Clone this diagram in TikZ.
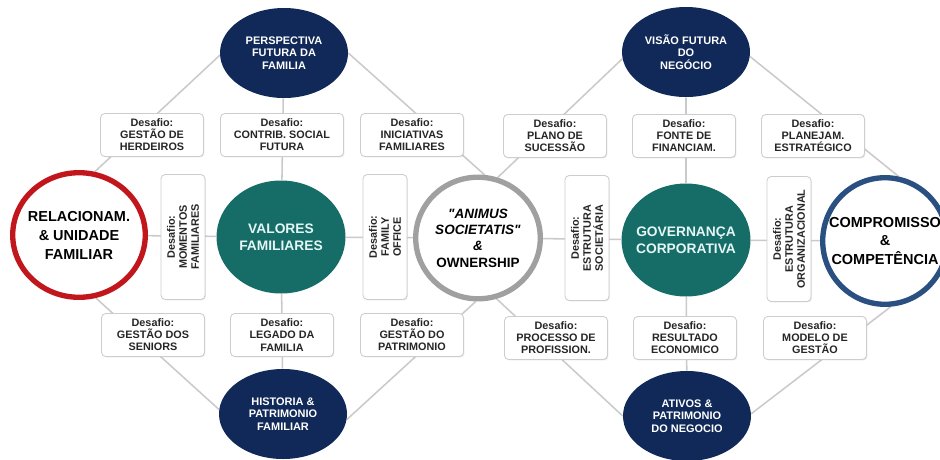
\documentclass[tikz,border=0pt]{standalone}
\usepackage{fontspec}
\setmainfont{Liberation Sans}
\usetikzlibrary{shapes.geometric,shadows,backgrounds}

\definecolor{navyfill}{RGB}{16,41,88}
\definecolor{tealfill}{RGB}{22,108,102}
\definecolor{tealtext}{RGB}{228,246,246}
\definecolor{ringred}{RGB}{192,22,28}
\definecolor{ringgray}{RGB}{160,160,160}
\definecolor{ringblue}{RGB}{42,80,130}
\definecolor{boxline}{RGB}{205,205,205}
\definecolor{linkgray}{RGB}{202,202,202}

\tikzset{
  desafio/.style={draw=boxline, fill=white, line width=0.6pt, rounded corners=3pt,
    align=center, inner sep=1pt, text=black!85,
    font=\bfseries\fontsize{7.7}{8.6}\selectfont,
    drop shadow={shadow xshift=0.7pt, shadow yshift=-0.7pt, opacity=0.18}},
  hdesafio/.style={desafio, minimum width=2.575cm, minimum height=1.075cm},
  vdesafio/.style={desafio, rotate=90, minimum width=3.125cm, minimum height=1.1cm},
  horizonte/.style={ellipse, fill=navyfill, inner sep=0pt, minimum width=3.2cm,
    minimum height=2.25cm, align=center, text=white,
    font=\bfseries\fontsize{7.8}{9}\selectfont},
  valor/.style={ellipse, fill=tealfill, inner sep=0pt, minimum width=3.225cm,
    minimum height=2.825cm},
  valortext/.style={align=center, text=tealtext,
    font=\bfseries\fontsize{9.8}{12.3}\selectfont},
  pilar/.style={ellipse, fill=white, line width=3.8pt, inner sep=0pt},
  pilartext/.style={align=center, text=black,
    font=\bfseries\fontsize{10.3}{13.5}\selectfont},
  link/.style={draw=linkgray, line width=1.1pt}
}

\begin{document}
\begin{tikzpicture}
            \useasboundingbox (0,0) rectangle (23.5,11.475);

            \node[horizonte] (persp) at (7.1,10.15) {PERSPECTIVA\\FUTURA DA\\FAMILIA};
            \node[horizonte] (visao) at (17.15,10.175) {VISÃO FUTURA\\DO\\NEGÓCIO};
            \node[horizonte] (hist) at (7.075,1.125) {HISTORIA \&\\PATRIMONIO\\FAMILIAR};
            \node[horizonte] (ativos) at (17.175,1.075) {ATIVOS \&\\PATRIMONIO\\DO NEGOCIO};

            \node[pilar, draw=ringred, minimum width=3.315cm, minimum height=3.115cm,
                label={[pilartext]center:RELACIONAM.\\\& UNIDADE\\FAMILIAR}] (rel) at (1.975,5.6) {};
            \node[pilar, draw=ringgray, minimum width=3.115cm, minimum height=3.04cm,
                label={[pilartext, font=\bfseries\fontsize{9.6}{11.6}\selectfont]center:\textit{\textquotedbl ANIMUS}\\\textit{SOCIETATIS\textquotedbl}\\\textit{\&}\\OWNERSHIP}] (anim) at (11.95,5.525) {};
            \node[pilar, draw=ringblue, minimum width=3.115cm, minimum height=3.165cm,
                label={[pilartext]center:COMPROMISSO\\\&\\COMPETÊNCIA}] (comp) at (22.125,5.45) {};

            \node[valor, label={[valortext]center:VALORES\\FAMILIARES}] (valores) at (7.025,5.55) {};
            \node[valor, label={[valortext]center:GOVERNANÇA\\CORPORATIVA}] (gov) at (17.15,5.475) {};

            \node[vdesafio] (mom) at (4.575,5.55) {Desafio:\\MOMENTOS\\FAMILIARES};
            \node[vdesafio] (fam) at (9.625,5.55) {Desafio:\\FAMILY\\OFFICE};
            \node[vdesafio] (soc) at (14.675,5.525) {Desafio:\\ESTRUTURA\\SOCIETÁRIA};
            \node[vdesafio] (org) at (19.725,5.5) {Desafio:\\ESTRUTURA\\ORGANIZACIONAL};

            \node[hdesafio] (herd) at (3.8,8.1) {Desafio:\\GESTÃO DE\\HERDEIROS};
            \node[hdesafio, minimum width=3.075cm] (contrib) at (7.05,8.1) {Desafio:\\CONTRIB. SOCIAL\\FUTURA};
            \node[hdesafio] (inic) at (10.3,8.1) {Desafio:\\INICIATIVAS\\FAMILIARES};
            \node[hdesafio] (plano) at (13.875,8.075) {Desafio:\\PLANO DE\\SUCESSÃO};
            \node[hdesafio] (fonte) at (17.1,8.075) {Desafio:\\FONTE DE\\FINANCIAM.};
            \node[hdesafio] (planej) at (20.325,8.075) {Desafio:\\PLANEJAM.\\ESTRATÉGICO};

            \node[hdesafio] (senior) at (3.825,3.1) {Desafio:\\GESTÃO DOS\\SENIORS};
            \node[hdesafio] (legado) at (7.05,3.1) {Desafio:\\LEGADO DA\\FAMILIA};
            \node[hdesafio] (patr) at (10.3,3.1) {Desafio:\\GESTÃO DO\\PATRIMONIO};
            \node[hdesafio] (proc) at (13.9,3.025) {Desafio:\\PROCESSO DE\\PROFISSION.};
            \node[hdesafio] (result) at (17.125,3.025) {Desafio:\\RESULTADO\\ECONOMICO};
            \node[hdesafio] (modelo) at (20.375,3.025) {Desafio:\\MODELO DE\\GESTÃO};

            \begin{scope}[on background layer]
                \draw[link] (rel) -- (valores) -- (anim) -- (gov) -- (comp);
                \draw[link] (persp) -- (valores) -- (hist);
                \draw[link] (visao) -- (gov) -- (ativos);
                \draw[link] (persp.182) -- (rel.76);
                \draw[link] (persp.0) -- (anim.84);
                \draw[link] (visao.186) -- (anim.72);
                \draw[link] (visao.356) -- (comp.78);
                \draw[link] (hist.176) -- (rel.285);
                \draw[link] (hist.355) -- (anim.268);
                \draw[link] (ativos.180) -- (anim.287);
                \draw[link] (ativos.2) -- (comp.275);
            \end{scope}
        \end{tikzpicture}
\end{document}
